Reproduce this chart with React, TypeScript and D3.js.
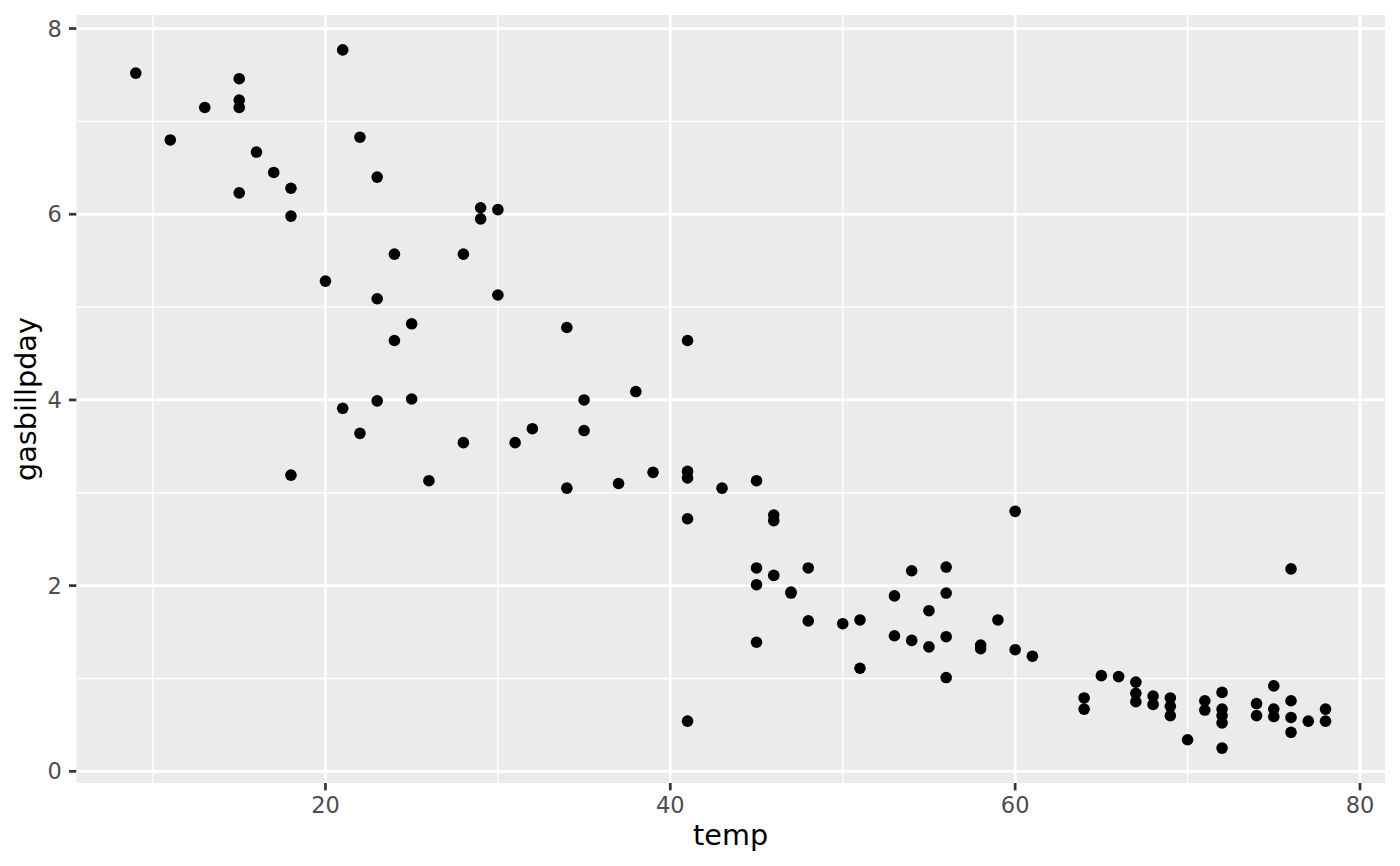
import React, { useRef, useEffect } from 'react';
import * as d3 from 'd3';

// temperature (x) and gas bill per day (y)
const temps: number[] = [
  9, 11, 13, 15, 15, 15, 15, 16, 17, 18, 18, 18, 20, 21, 21, 22, 22, 23, 23, 23,
  24, 24, 25, 25, 26,
  28, 28, 29, 29, 30, 30, 31, 32, 34, 34, 35, 35, 37, 38, 39, 41, 41, 41, 41, 41,
  43, 45, 45, 45, 45, 46, 46, 46, 47, 47, 48, 48, 50, 51, 51,
  53, 53, 54, 54, 55, 55, 56, 56, 56, 56, 58, 58, 59, 60, 60, 61,
  64, 64, 65, 66, 67, 67, 67, 68, 68, 69, 69, 69, 70, 71, 71,
  72, 72, 72, 72, 72, 74, 74, 75, 75, 75, 76, 76, 76, 76, 77, 78, 78,
];

const gasBill: number[] = [
  7.52, 6.80, 7.15, 7.46, 7.23, 7.15, 6.23, 6.67, 6.45, 6.28, 5.98, 3.19, 5.28, 7.77, 3.91, 6.83, 3.64, 6.40, 5.09, 3.99,
  5.57, 4.64, 4.82, 4.01, 3.13,
  5.57, 3.54, 6.07, 5.95, 6.05, 5.13, 3.54, 3.69, 4.78, 3.05, 4.00, 3.67, 3.10, 4.09, 3.22, 4.64, 3.23, 3.16, 2.72, 0.54,
  3.05, 3.13, 2.19, 2.01, 1.39, 2.76, 2.70, 2.11, 1.92, 1.93, 2.19, 1.62, 1.59, 1.63, 1.11,
  1.89, 1.46, 2.16, 1.41, 1.73, 1.34, 2.20, 1.92, 1.45, 1.01, 1.36, 1.32, 1.63, 2.80, 1.31, 1.24,
  0.79, 0.67, 1.03, 1.02, 0.96, 0.84, 0.75, 0.81, 0.72, 0.79, 0.70, 0.60, 0.34, 0.76, 0.66,
  0.85, 0.67, 0.60, 0.52, 0.25, 0.73, 0.60, 0.92, 0.67, 0.59, 2.18, 0.76, 0.58, 0.42, 0.54, 0.67, 0.54,
];

const xMajor = [20, 40, 60, 80];
const xMinor = [10, 30, 50, 70];
const yMajor = [0, 2, 4, 6, 8];
const yMinor = [1, 3, 5, 7];

const xTitle = 'temp';
const yTitle = 'gasbillpday';

// ggplot-style 5% expansion of the data range
function expand(values: number[]): [number, number] {
  const [lo, hi] = d3.extent(values) as [number, number];
  const pad = (hi - lo) * 0.05;
  return [lo - pad, hi + pad];
}

export default function App() {
  const svgRef = useRef<SVGSVGElement>(null);

  const width = 1400;
  const height = 866;

  useEffect(() => {
    if (!svgRef.current) return;

    const svg = d3.select(svgRef.current);
    svg.selectAll('*').remove();

    const margin = { top: 15, right: 15, bottom: 83, left: 76.3 };
    const plotW = width - margin.left - margin.right;
    const plotH = height - margin.top - margin.bottom;
    const font = '"DejaVu Sans", sans-serif';

    const xScale = d3.scaleLinear().domain(expand(temps)).range([0, plotW]);
    const yScale = d3.scaleLinear().domain(expand(gasBill)).range([plotH, 0]);

    const g = svg.append('g')
      .attr('transform', `translate(${margin.left},${margin.top})`);

    // panel background
    g.append('rect')
      .attr('width', plotW)
      .attr('height', plotH)
      .attr('fill', '#EBEBEB');

    // minor grid
    xMinor.forEach((t) => {
      g.append('line')
        .attr('x1', xScale(t)).attr('x2', xScale(t))
        .attr('y1', 0).attr('y2', plotH)
        .attr('stroke', '#fff').attr('stroke-width', 1.4);
    });
    yMinor.forEach((t) => {
      g.append('line')
        .attr('x1', 0).attr('x2', plotW)
        .attr('y1', yScale(t)).attr('y2', yScale(t))
        .attr('stroke', '#fff').attr('stroke-width', 1.4);
    });

    // major grid
    xMajor.forEach((t) => {
      g.append('line')
        .attr('x1', xScale(t)).attr('x2', xScale(t))
        .attr('y1', 0).attr('y2', plotH)
        .attr('stroke', '#fff').attr('stroke-width', 2.7);
    });
    yMajor.forEach((t) => {
      g.append('line')
        .attr('x1', 0).attr('x2', plotW)
        .attr('y1', yScale(t)).attr('y2', yScale(t))
        .attr('stroke', '#fff').attr('stroke-width', 2.7);
    });

    // points
    g.selectAll('circle')
      .data(temps.map((t, i) => ({ t, v: gasBill[i] })))
      .enter()
      .append('circle')
      .attr('cx', (d) => xScale(d.t))
      .attr('cy', (d) => yScale(d.v))
      .attr('r', 5.8)
      .attr('fill', '#000');

    // ticks + labels, y axis
    yMajor.forEach((t) => {
      const y = yScale(t);
      g.append('line')
        .attr('x1', -7.3).attr('x2', 0)
        .attr('y1', y).attr('y2', y)
        .attr('stroke', '#333333').attr('stroke-width', 2.7);
      g.append('text')
        .attr('x', -14.6)
        .attr('y', y)
        .attr('dy', '0.36em')
        .attr('text-anchor', 'end')
        .attr('font-family', font)
        .attr('font-size', 22.5)
        .attr('fill', '#4D4D4D')
        .text(t);
    });

    // ticks + labels, x axis
    xMajor.forEach((t) => {
      const x = xScale(t);
      g.append('line')
        .attr('x1', x).attr('x2', x)
        .attr('y1', plotH).attr('y2', plotH + 7.3)
        .attr('stroke', '#333333').attr('stroke-width', 2.7);
      g.append('text')
        .attr('x', x)
        .attr('y', plotH + 30)
        .attr('text-anchor', 'middle')
        .attr('font-family', font)
        .attr('font-size', 22.5)
        .attr('fill', '#4D4D4D')
        .text(t);
    });

    // axis titles
    svg.append('text')
      .attr('x', margin.left + plotW / 2)
      .attr('y', 845)
      .attr('text-anchor', 'middle')
      .attr('font-family', font)
      .attr('font-size', 28.7)
      .attr('fill', '#000')
      .text(xTitle);

    svg.append('text')
      .attr('transform', `translate(36,${margin.top + plotH / 2}) rotate(-90)`)
      .attr('text-anchor', 'middle')
      .attr('font-family', font)
      .attr('font-size', 28.7)
      .attr('fill', '#000')
      .text(yTitle);
  }, []);

  return (
    <svg
      ref={svgRef}
      width={width}
      height={height}
      style={{ position: 'absolute', left: 0, top: 0, background: '#fff' }}
    />
  );
}
